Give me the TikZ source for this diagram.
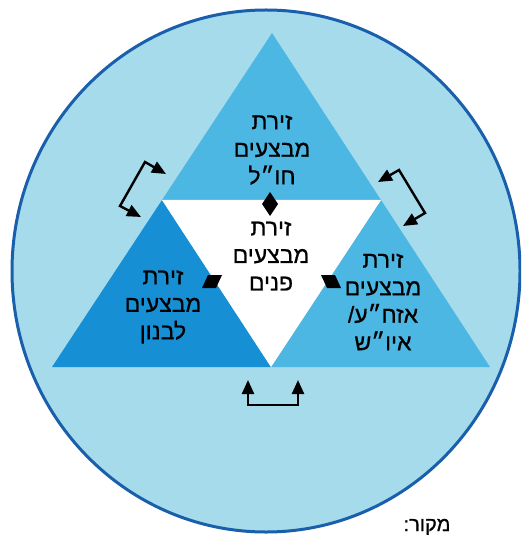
\documentclass[tikz,border=0pt]{standalone}
\usepackage{fontspec}
\newfontfamily\heb[Script=Hebrew,FakeBold=0.7]{Liberation Sans}
\TeXXeTstate=1
\usetikzlibrary{arrows.meta,shapes.geometric}
\definecolor{circfill}{RGB}{166,219,236}
\definecolor{circline}{RGB}{25,95,172}
\definecolor{midblue}{RGB}{76,183,227}
\definecolor{deepblue}{RGB}{22,143,213}
\newcommand\hl[1]{\beginR #1\endR}
\tikzset{
  lbl/.style={font=\heb\fontsize{23}{27.5}\selectfont, align=center, inner sep=0pt, text=black},
  conn2/.style={line width=2.4pt, black, line join=miter, {Triangle[length=14pt,width=12pt]}-{Triangle[length=14pt,width=12pt]}},
  mk/.style={fill=black, draw=none}
}
\begin{document}
\begin{tikzpicture}[x=1pt,y=-1pt]
\clip (0,0) rectangle (521,537);
\fill[white] (0,0) rectangle (521,537);
% outer circle
\node[ellipse, minimum width=508pt, minimum height=522pt, draw=circline, line width=3pt, fill=circfill, inner sep=0pt] (circ) at (266,271) {};
% triangle vertices
\coordinate (A) at (272,33);
\coordinate (BL) at (52,367);
\coordinate (BR) at (490,367);
\coordinate (ML) at (162,200);
\coordinate (MR) at (381,200);
\coordinate (MB) at (271,367);
\fill[midblue] (A) -- (MR) -- (ML) -- cycle;
\fill[deepblue] (ML) -- (MB) -- (BL) -- cycle;
\fill[midblue] (MR) -- (BR) -- (MB) -- cycle;
\fill[white] (ML) -- (MR) -- (MB) -- cycle;
% markers
\fill[mk] (270,192) -- (278,204) -- (270,216) -- (262,204) -- cycle;
\fill[mk] (208,275) -- (222,275) -- (216,288) -- (202,288) -- cycle;
\fill[mk] (321,275) -- (335,275) -- (341,288) -- (327,288) -- cycle;
% labels
\node[lbl] (top) at (272,150) {\hl{זירת}\\\hl{מבצעים}\\\hl{חו״ל}};
\node[lbl] (mid) at (271,256) {\hl{זירת}\\\hl{מבצעים}\\\hl{פנים}};
\node[lbl] (left) at (163,307) {\hl{זירת}\\\hl{מבצעים}\\\hl{לבנון}};
\node[lbl] (right) at (383,302) {\hl{זירת}\\\hl{מבצעים}\\\hl{אזח״ע/}\\\hl{איו״ש}};
% connectors
\coordinate (l1) at (166,174);
\coordinate (l2) at (145,162);
\coordinate (l3) at (120,206);
\coordinate (l4) at (141,217);
\draw[conn2] (l1) -- (l2) -- (l3) -- (l4);
\coordinate (r1) at (378,182);
\coordinate (r2) at (399,170);
\coordinate (r3) at (425,213);
\coordinate (r4) at (403,226);
\draw[conn2] (r1) -- (r2) -- (r3) -- (r4);
\coordinate (b1) at (248,380);
\coordinate (b2) at (248,405);
\coordinate (b3) at (298,405);
\coordinate (b4) at (298,380);
\draw[conn2] (b1) -- (b2) -- (b3) -- (b4);
% source caption
\node[lbl, font=\heb\fontsize{20}{22}\selectfont, anchor=south] (src) at (427,535) {\hl{מקור:}};
\end{tikzpicture}
\end{document}
